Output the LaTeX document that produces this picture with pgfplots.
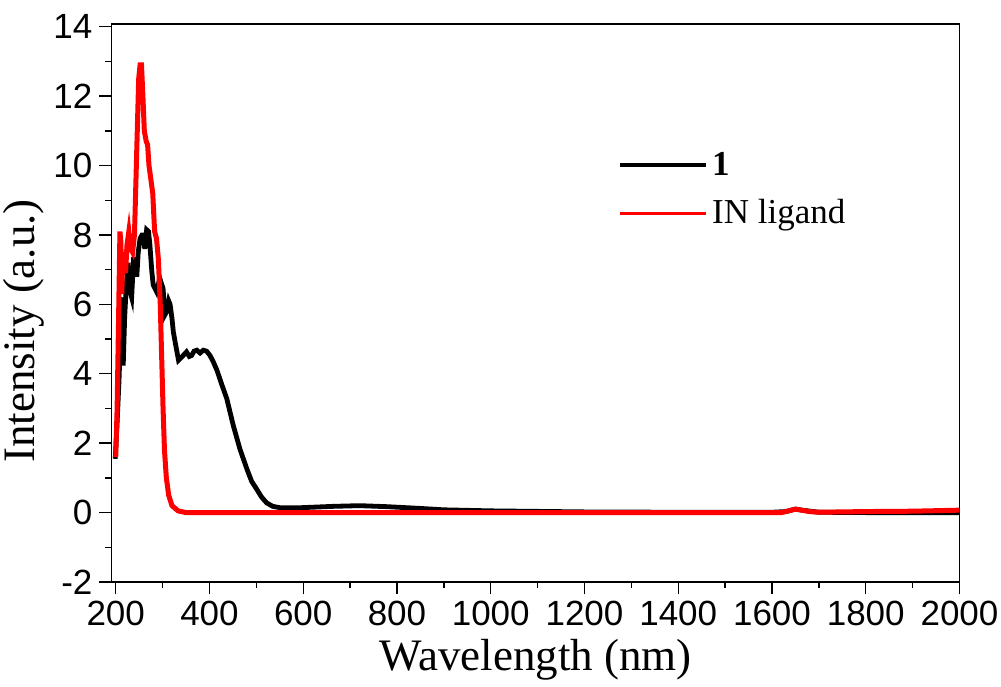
\documentclass[border=0pt]{standalone}
\usepackage{pgfplots}
\pgfplotsset{compat=1.18}
\usepackage{fontspec}
\setmainfont{Liberation Serif}
\newfontfamily\arial{Liberation Sans}
\begin{document}
\begin{tikzpicture}
\begin{axis}[
  scale only axis, width=424pt, height=279pt,
  xmin=191, xmax=2000, ymin=-2, ymax=14.08,
  xtick={200,400,...,2000}, ytick={-2,0,...,14},
  minor x tick num=1, minor y tick num=1,
  tick align=outside, xtick pos=bottom, ytick pos=left,
  major tick length=6pt, minor tick length=3pt,
  every tick/.style={black, line width=0.7pt},
  axis line style={line width=0.7pt},
  /pgf/number format/assume math mode=true,
  /pgf/number format/1000 sep={},
  tick label style={font=\arial\fontsize{17.5}{20}\selectfont},
  xlabel={Wavelength (nm)}, ylabel={Intensity (a.u.)},
  label style={font=\fontsize{22.5}{26}\selectfont},
  xlabel style={yshift=0pt},
  ylabel style={at={(ticklabel cs:0.45,-2pt)}},
  legend style={at={(axis description cs:0.59,0.785)}, anchor=north west, draw=none, fill=none,
    font=\fontsize{17.5}{20}\selectfont, row sep=6.5pt},
  legend cell align=left,
  legend image code/.code={\draw[#1] (0pt,0pt) -- (43pt,0pt);},
]
\addplot[black, line width=2.4pt, forget plot] coordinates {
(199,1.55)(203,2.6)(207,3.8)(210,5.0)(212,6.0)(214,6.2)(216,4.24)(219,5.6)(222,6.4)(226,7.2)(230,6.4)(234,6.2)(238,7.3)(242,7.3)(245,6.8)(248,7.5)(252,7.9)(256,8.0)(259,8.0)(262,7.6)(266,8.15)(270,8.1)(273,7.7)(277,6.95)(280,6.56)(287,6.37)(294,6.75)(301,6.46)(305,5.7)(309,5.8)(313,6.1)(316,6.0)(320,5.6)(323,5.2)(327,4.9)(334,4.39)(342,4.5)(351,4.63)(357,4.5)(362,4.53)(367,4.65)(373,4.68)(380,4.6)(387,4.68)(394,4.65)(401,4.53)(408,4.35)(416,4.1)(426,3.7)(437,3.28)(451,2.5)(465,1.83)(480,1.25)(490,0.9)(501,0.67)(511,0.45)(522,0.28)(535,0.18)(551,0.14)(593,0.14)(664,0.18)(720,0.2)(780,0.17)(850,0.12)(900,0.08)(1000,0.05)(1200,0.02)(1400,0.01)(1600,0.01)(1630,0.03)(1650,0.1)(1670,0.06)(1700,0.01)(1800,0.0)(1900,0.0)(2000,0.0)
};
\addplot[red, line width=2.5pt, forget plot] coordinates {
(200,1.6)(203,3.0)(206,5.5)(209,8.1)(211,7.8)(213,6.3)(215,7.5)(218,7.2)(221,6.9)(224,7.7)(228,8.1)(232,7.6)(236,7.5)(240,8.0)(243,9.5)(246,11.0)(249,12.5)(252,12.9)(255,12.9)(258,12.0)(261,11.0)(265,10.7)(268,10.6)(271,10.0)(275,9.6)(279,9.2)(283,8.1)(287,7.9)(291,7.3)(295,6.0)(298,4.5)(301,3.0)(304,1.8)(308,1.0)(313,0.5)(320,0.2)(333,0.05)(350,0.0)(1000,0.0)(1620,0.0)(1650,0.1)(1680,0.03)(1700,0.01)(1800,0.03)(1900,0.04)(2000,0.07)
};
\addlegendimage{black, line width=2pt}
\addlegendentry{\textbf{1}}
\addlegendimage{red, line width=1.4pt}
\addlegendentry{IN ligand}
\end{axis}
\pgfresetboundingbox
\path[use as bounding box] ([shift={(-55.75pt,-52pt)}]current axis.south west) rectangle ([shift={(20.75pt,12pt)}]current axis.north east);
\end{tikzpicture}
\end{document}
